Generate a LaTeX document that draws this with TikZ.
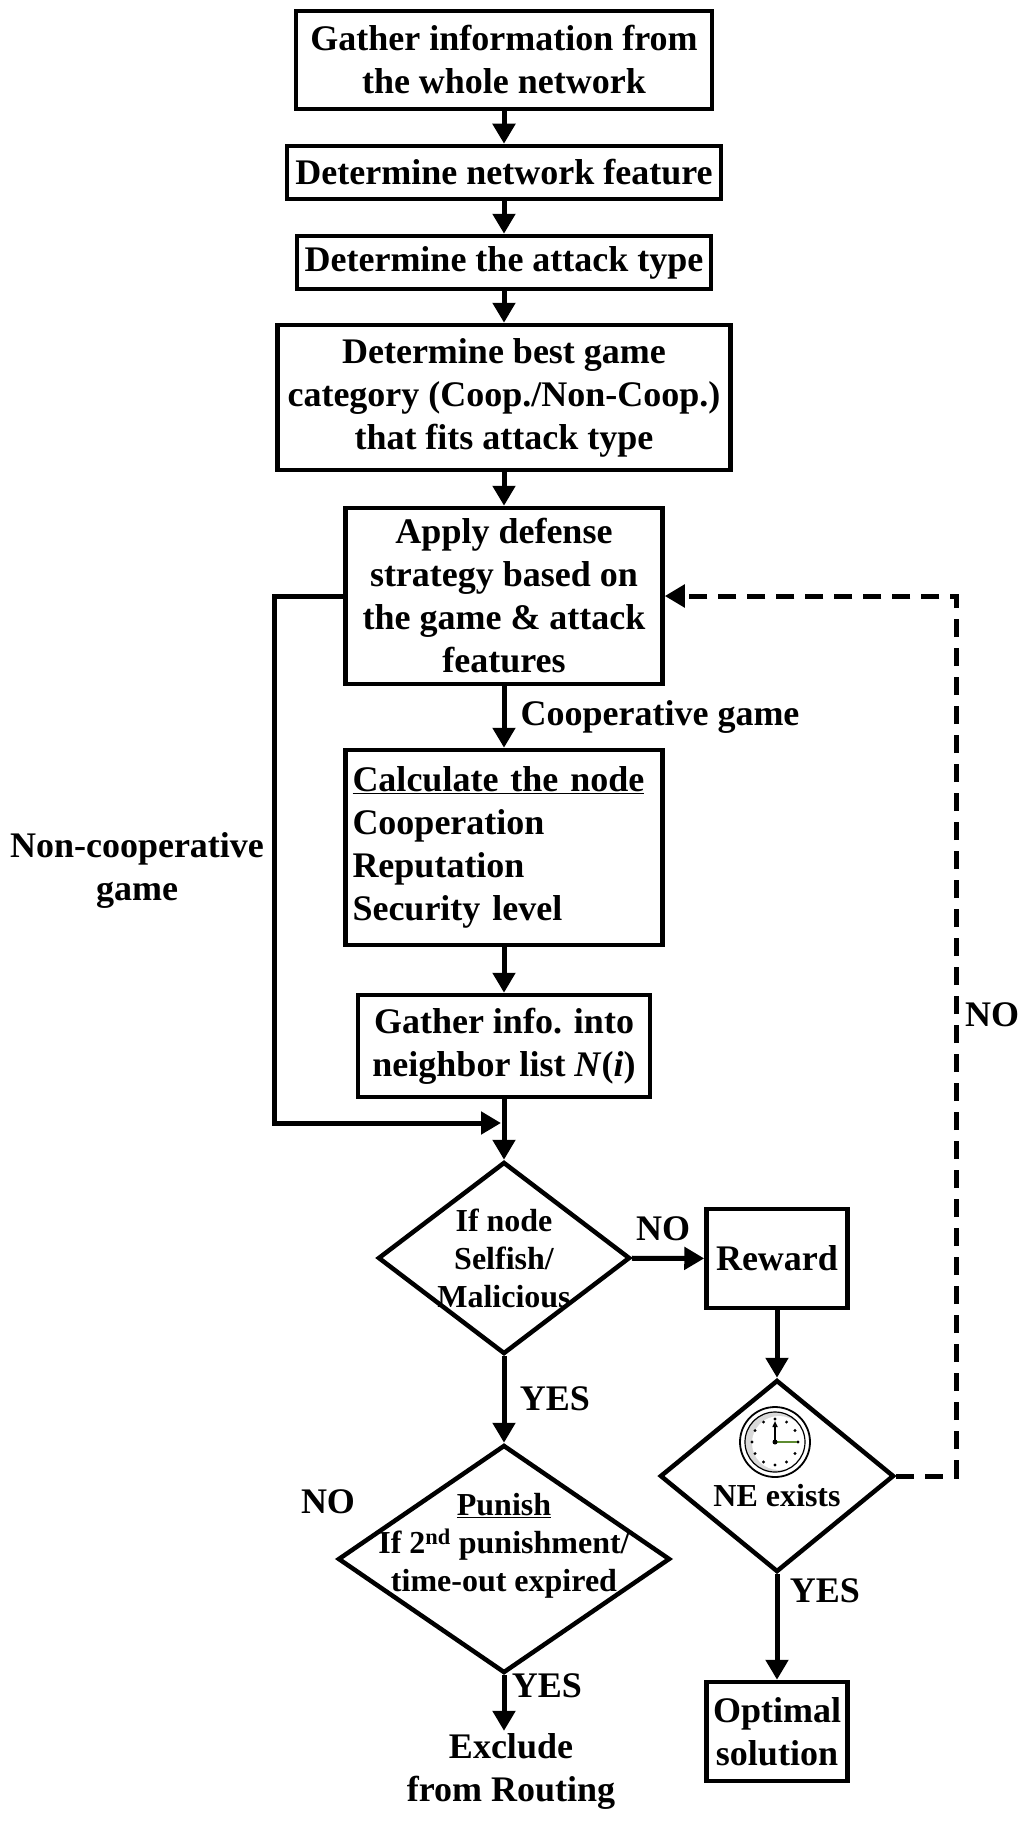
\documentclass[tikz,border=0pt]{standalone}
\usepackage{fontspec}
\setmainfont{Liberation Serif}
\usepackage{tikz}
\usetikzlibrary{shapes.geometric, arrows.meta, positioning, calc}
\definecolor{ClockGreen}{HTML}{5E8C31}
\newcommand{\flowfont}{\fontsize{36}{43}\selectfont\bfseries}
\newcommand{\choicefont}{\fontsize{32}{38}\selectfont\bfseries}
\tikzset{
  % Box styles
  flowbox/.style={rectangle, draw=black, line width=4.5pt, font=\flowfont, align=center, inner sep=3pt},
  listbox/.style={flowbox, align=left, text width=303pt, inner xsep=7pt},
  choice/.style={diamond, draw=black, line width=4.5pt, inner sep=0pt},
  choicetext/.style={font=\choicefont, align=center, inner sep=0pt},
  tag/.style={font=\flowfont, inner sep=2pt, align=center},
  % Arrow styles
  arrow/.style={-{Triangle[length=20pt, width=22pt]}, line width=5pt, black},
  dashedarrow/.style={arrow, line width=5pt, dash pattern=on 18pt off 11pt}
}

\begin{document}
\begin{tikzpicture}[x=1pt, y=-1pt]
  \useasboundingbox (0,0) rectangle (1024,1822);

  % Main column
  \node[flowbox, minimum width=416pt, minimum height=98pt] (gather) at (504,60) {Gather information from\\the whole network};
  \node[flowbox, minimum width=434pt, minimum height=53pt] (feature) at (504,172.5) {Determine network feature};
  \node[flowbox, minimum width=414pt, minimum height=53pt] (attack) at (504,262.5) {Determine the attack type};
  \node[flowbox, minimum width=453pt, minimum height=145pt] (category) at (504,397.5) {Determine best game\\category (Coop./Non-Coop.)\\that fits attack type};
  \node[flowbox, minimum width=317pt, minimum height=176pt] (defense) at (504,596) {Apply defense\\strategy based on\\the game \& attack\\features};
  \node[listbox, minimum height=195pt] (calc) at (504,847.5) {\underline{Calculate the node}\\Cooperation\\Reputation\\Security level};
  \node[flowbox, minimum width=292pt, minimum height=102pt] (neighbor) at (504,1046) {Gather info. into\\neighbor list \textit{N}(\textit{i})};
  \coordinate (join) at (504,1123);

  % Decisions
  \node[choice, minimum width=252pt, minimum height=192pt, label={[choicetext]center:If node\\Selfish/\\Malicious}] (selfish) at (504,1258) {};
  \node[choice, minimum width=332pt, minimum height=228pt, label={[choicetext, yshift=13pt]center:\underline{Punish}\\If 2\textsuperscript{nd} punishment/\\time-out expired}] (punish) at (504,1559) {};
  \node[tag] (exclude) at (511,1771) {Exclude\\from Routing};

  % Reward branch
  \node[flowbox, minimum width=141pt, minimum height=99pt] (reward) at (777,1258.5) {Reward};
  \node[choice, minimum width=234pt, minimum height=192pt, label={[choicetext, yshift=-20pt]center:NE exists}] (nash) at (777,1476) {};
  \node[flowbox, minimum width=141pt, minimum height=99pt, inner sep=1pt] (optimal) at (777,1731.5) {Optimal\\solution};

  % Labels
  \node[tag] (coopgame) at (660,717) {Cooperative game};
  \node[tag] (noncoop) at (137,870) {Non-cooperative\\game};
  \node[tag] (noreward) at (663,1229) {NO};
  \node[tag] (yespunish) at (555,1399) {YES};
  \node[tag] (nopunish) at (328,1502) {NO};
  \node[tag] (yesexclude) at (547,1686) {YES};
  \node[tag] (yesoptimal) at (825,1591) {YES};
  \node[tag, anchor=west] (noloop) at (963,1015) {NO};

  \draw[arrow] (gather) -- (feature);
  \draw[arrow] (feature) -- (attack);
  \draw[arrow] (attack) -- (category);
  \draw[arrow] (category) -- (defense);
  \draw[arrow] (defense) -- (calc);
  \draw[arrow] (calc) -- (neighbor);
  \draw[line width=5pt] (neighbor) -- (join);
  \draw[arrow] (join) -- (selfish);
  \draw[arrow, shorten >=3pt] (defense.west) -- ++(-69,0) |- (join);
  \draw[arrow] (selfish) -- (reward);
  \draw[arrow] (selfish) -- (punish);
  \draw[arrow] (punish) -- (punish.south |- exclude.north);
  \draw[arrow] (reward) -- (nash);
  \draw[arrow] (nash) -- (optimal);
  \draw[dashedarrow] (nash.east) -- ++(60,0) |- (defense.east);

  % Clock
  \begin{scope}[shift={(775,1442)}]
    \draw[line width=1.8pt, fill=white] (0,0) circle (35);
    \fill[gray!30] (0,0) circle (30);
    \fill[white] (4,1) circle (27);
    \draw[line width=1.2pt] (0,0) circle (30);
    \foreach \a in {0,30,...,330}
      \fill (\a:23) circle (1.6);
    \draw[line width=1.5pt, -{Triangle[length=6pt, width=5pt, open]}] (0,0) -- (0,-21);
    \draw[line width=1.5pt, ClockGreen] (0,0) -- (22,0);
    \fill (0,0) circle (2.5);
  \end{scope}
\end{tikzpicture}
\end{document}
